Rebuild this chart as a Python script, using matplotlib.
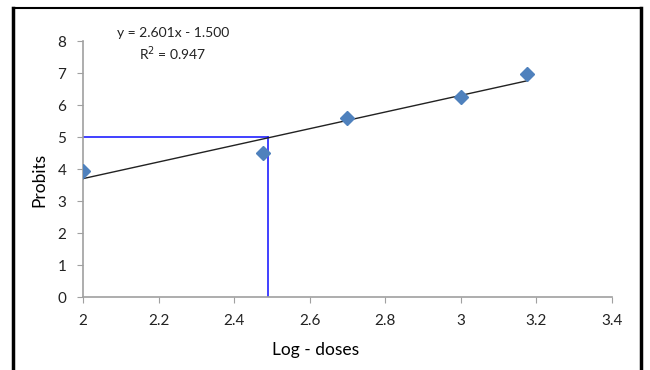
import matplotlib.pyplot as plt
from matplotlib.lines import Line2D
import numpy as np

# data
log_doses = [2.0, 2.477, 2.699, 3.0, 3.176]
probits = [3.95, 4.5, 5.6, 6.25, 6.97]
slope = 2.601
intercept = -1.500
r2 = 0.947
ld50_x = 2.49
ld50_y = 5

xticks = [2, 2.2, 2.4, 2.6, 2.8, 3, 3.2, 3.4]
yticks = [0, 1, 2, 3, 4, 5, 6, 7, 8]

plt.rcParams['font.family'] = ['Lato', 'DejaVu Sans']

fig = plt.figure(figsize=(6.5, 3.7), dpi=100)
ax = fig.add_axes([0.1277, 0.197, 0.8138, 0.692])

# outer frame (chart border)
fig.add_artist(Line2D([13/650, 13/650], [0, 1 - 8/370], transform=fig.transFigure, color='black', lw=2.5))
fig.add_artist(Line2D([13/650, 641/650], [1 - 8/370, 1 - 8/370], transform=fig.transFigure, color='black', lw=1.5))
fig.add_artist(Line2D([641/650, 641/650], [0, 1 - 8/370], transform=fig.transFigure, color='black', lw=2.5))

# blue LD50 guide lines
ax.plot([xticks[0], ld50_x], [ld50_y, ld50_y], color='#2020ff', lw=1.2, zorder=2)
ax.plot([ld50_x, ld50_x], [0, ld50_y], color='#2020ff', lw=1.2, zorder=2)

# trend line
xs = np.array([log_doses[0], log_doses[-1]])
ax.plot(xs, slope * xs + intercept, color='#222222', lw=1.0, zorder=3)

ax.plot(log_doses, probits, linestyle='none', marker='D', markersize=7,
        color='#4F81BD', zorder=4)

ax.set_xlim(2, 3.4)
ax.set_ylim(0, 8)
ax.set_xticks(xticks)
ax.set_xticklabels([f'{t:g}' for t in xticks])
ax.set_yticks(yticks)

for s in ['top', 'right']:
    ax.spines[s].set_visible(False)
for s in ['left', 'bottom']:
    ax.spines[s].set_color('#a0a0a0')
    ax.spines[s].set_linewidth(1.2)
ax.tick_params(direction='out', length=4, color='#a0a0a0', labelsize=11,
               labelcolor='#222222')
ax.tick_params(axis='x', pad=8)
ax.tick_params(axis='y', pad=8)

ax.set_xlabel('Log - doses', fontsize=12.5)
ax.xaxis.label.set_va('center')
ax.xaxis.set_label_coords(0.44, -(350 - 297) / 256)
ax.set_ylabel('Probits', fontsize=12.5)
ax.yaxis.label.set_va('center')
ax.yaxis.set_label_coords(-(83 - 39) / 529, (297 - 180) / 256)

fig.text(173/650, 1 - 33/370, f'y = {slope:.3f}x - {abs(intercept):.3f}',
         ha='center', va='center', fontsize=10, color='#222222')
fig.text(173/650, 1 - 54/370, f'R$^2$ = {r2:.3f}',
         ha='center', va='center', fontsize=10, color='#222222')

fig.savefig('out.png', dpi=100)
